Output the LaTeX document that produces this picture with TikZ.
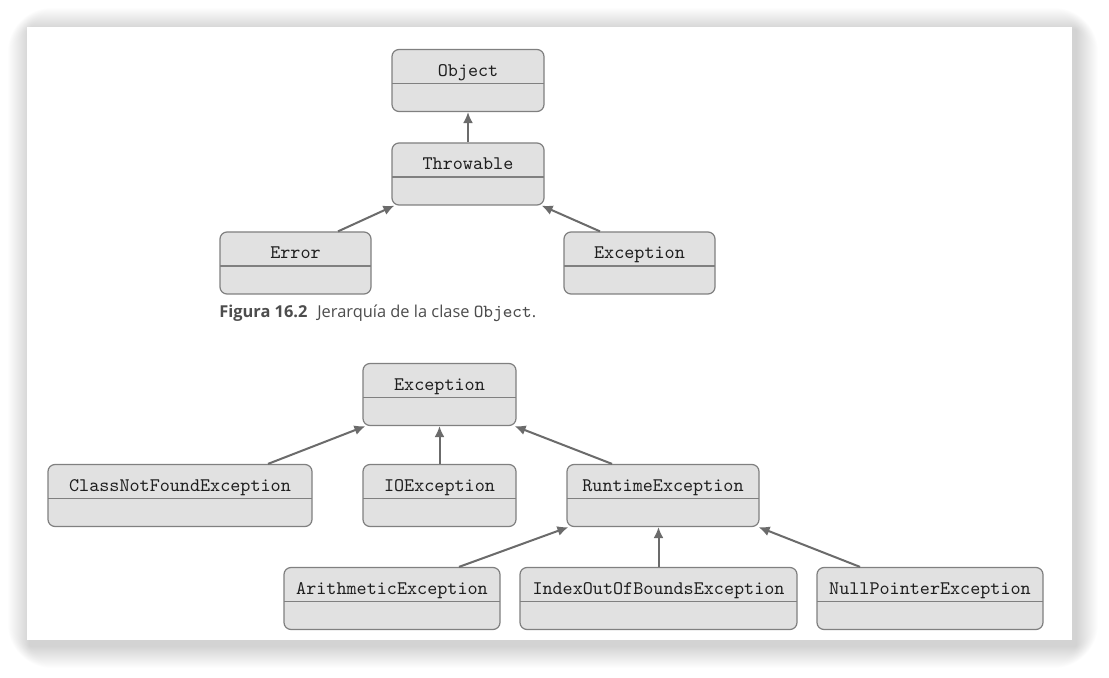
\documentclass[tikz,border=0pt]{standalone}
\usepackage{fontspec}
\setmainfont{Open Sans}
\usetikzlibrary{arrows.meta,calc}

\definecolor{kastenfarbe}{HTML}{E1E1E1}
\definecolor{randfarbe}{HTML}{808080}
\definecolor{pfeilfarbe}{HTML}{6B6B6B}
\definecolor{textfarbe}{HTML}{1E1E1E}
\definecolor{titelfarbe}{HTML}{4D4D4D}

\tikzset{
    klasse/.style={draw=randfarbe, fill=kastenfarbe, line width=0.6pt, rounded corners=3.5pt,
        minimum height=31pt, inner ysep=0pt, text height=13.5pt, text depth=17.5pt,
        text=textfarbe, font=\ttfamily\fontsize{9.6}{11}\selectfont,
        path picture={\draw[randfarbe, line width=0.6pt]
            ([yshift=-17pt]path picture bounding box.north west) --
            ([yshift=-17pt]path picture bounding box.north east);}},
    erbt/.style={draw=pfeilfarbe, line width=1pt, -{Latex[length=5.5pt, width=5pt]}}
}

\begin{document}
\begin{tikzpicture}[x=0.5pt, y=-0.5pt]
    \useasboundingbox (0, 0) rectangle (1109, 678);

    % Seite mit Schatten
    \foreach \i in {1,...,22}
        \fill [black, opacity=0.009, rounded corners=\i pt] ($(27, 27)+(-\i+3, -\i+3)$) rectangle ($(1072, 640)+(\i+4, \i+6)$);
    \fill [white] (27, 27) rectangle (1072, 640);

    % Hierarchie von Object
    \node [klasse, minimum width=76pt]   (object)    at (468, 80.5)  {Object};
    \node [klasse, minimum width=76pt]   (throwable) at (468, 174)   {Throwable};
    \node [klasse, minimum width=75.5pt] (error)     at (295.5, 263) {Error};
    \node [klasse, minimum width=75.5pt] (exception) at (639.5, 263) {Exception};

    \draw [erbt] (throwable.north) -- (object.south);
    \draw [erbt] ($(error.north)+(42.5, 0)$) -- ($(throwable.south west)+(3, 0)$);
    \draw [erbt] ($(exception.north)+(-39.5, 0)$) -- ($(throwable.south east)+(-3, 0)$);

    % Bildunterschrift
    \node [anchor=west, inner sep=0pt, text=titelfarbe, font=\fontsize{8.2}{10}\selectfont] (caption) at (219, 313)
        {\textbf{Figura 16.2}\hspace{0.6em}Jerarquía de la clase {\ttfamily\fontsize{9.2}{10}\selectfont Object}.};

    % Hierarchie von Exception
    \node [klasse, minimum width=76.5pt] (exc)      at (439.5, 394.5) {Exception};
    \node [klasse, minimum width=132pt]  (notfound) at (180, 495.5)   {ClassNotFoundException};
    \node [klasse, minimum width=76.5pt] (io)       at (439.5, 495.5) {IOException};
    \node [klasse, minimum width=96pt]   (runtime)  at (663, 495.5)   {RuntimeException};
    \node [klasse, minimum width=108pt]  (arith)    at (392, 598.5)   {ArithmeticException};
    \node [klasse, minimum width=138.5pt] (index)   at (658.5, 598.5) {IndexOutOfBoundsException};
    \node [klasse, minimum width=113pt]  (nullp)    at (930, 598.5)   {NullPointerException};

    \draw [erbt] ($(notfound.north)+(88, 0)$) -- ($(exc.south west)+(3, 0)$);
    \draw [erbt] (io.north) -- (exc.south);
    \draw [erbt] ($(runtime.north)+(-51, 0)$) -- ($(exc.south east)+(-2, 0)$);
    \draw [erbt] ($(arith.north)+(67, 0)$) -- ($(runtime.south west)+(2, 0)$);
    \draw [erbt] (index.north) -- (index.north |- runtime.south);
    \draw [erbt] ($(nullp.north)+(-70, 0)$) -- ($(runtime.south east)+(-1, 0)$);
\end{tikzpicture}
\end{document}
